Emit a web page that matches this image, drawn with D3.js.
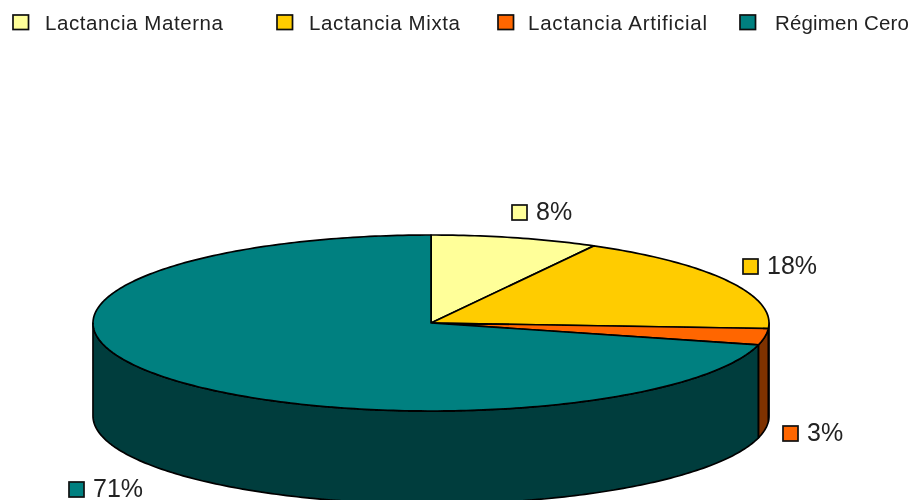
<!DOCTYPE html>
<html><head><meta charset="utf-8">
<script src="https://cdn.jsdelivr.net/npm/d3@7"></script>
<style>html,body{margin:0;padding:0;background:#fff}svg{display:block}text{font-family:"Liberation Sans",Arial,sans-serif;fill:#222}</style>
</head><body><svg id="c" width="912" height="500"></svg>
<script>
const categories = ["Lactancia Materna","Lactancia Mixta","Lactancia Artificial","Régimen Cero"];
const values = [8,18,3,71];
const colors = ["#FFFF99","#FFCC00","#FF6600","#008080"];
const wallColors = ["#7F7F4C","#7F6600","#7F3300","#003C3C"];
const legendX = [13,277,498,740];
const legendTextX = [45,309,528,775];
const legendTextW = [178,151,179,134];
const labelPos = [[512,205],[743,259],[783,426],[69,482]];

const cx=431, cy=323, rx=338, ry=88, depth=93;
const svg=d3.select("#c");
const soft=svg.append("defs").append("filter").attr("id","soft");
soft.append("feGaussianBlur").attr("stdDeviation",0.45);
const root=svg.append("g").attr("filter","url(#soft)");

const arcs=d3.pie().sort(null).value(d=>d)(values);
const px=a=>cx+rx*Math.sin(a), py=a=>cy-ry*Math.cos(a);
const line=d3.line();
const samples=(a0,a1)=>{const n=Math.max(2,Math.ceil((a1-a0)*60));return d3.range(n+1).map(i=>a0+(a1-a0)*i/n);};

// side walls: only the front half of the disc (90°..270°) is visible
const wallG=root.append("g");
arcs.forEach((d,i)=>{
  const a0=Math.max(d.startAngle,Math.PI/2), a1=Math.min(d.endAngle,Math.PI*1.5);
  if(a1<=a0) return;
  const s=samples(a0,a1);
  const pts=s.map(a=>[px(a),py(a)]).concat(s.slice().reverse().map(a=>[px(a),py(a)+depth]));
  wallG.append("path").attr("d",line(pts)+"Z").attr("fill",wallColors[i])
    .attr("stroke","#000").attr("stroke-width",1.7).attr("stroke-linejoin","round");
});

// top face
const topG=root.append("g");
arcs.forEach((d,i)=>{
  const pts=[[cx,cy]].concat(samples(d.startAngle,d.endAngle).map(a=>[px(a),py(a)]));
  topG.append("path").attr("d",line(pts)+"Z").attr("fill",colors[i])
    .attr("stroke","#000").attr("stroke-width",1.7).attr("stroke-linejoin","round");
});

// legend
const leg=root.append("g");
categories.forEach((c,i)=>{
  leg.append("rect").attr("x",legendX[i]).attr("y",15).attr("width",15.5).attr("height",14.5)
    .attr("fill",colors[i]).attr("stroke","#111").attr("stroke-width",1.7);
  leg.append("text").attr("x",legendTextX[i]).attr("y",29.5).attr("font-size",20.5)
    .attr("textLength",legendTextW[i]).attr("lengthAdjust","spacing").text(c);
});

// data labels
const lab=root.append("g");
values.forEach((v,i)=>{
  const [x,y]=labelPos[i];
  lab.append("rect").attr("x",x).attr("y",y).attr("width",15).attr("height",15)
    .attr("fill",colors[i]).attr("stroke","#111").attr("stroke-width",1.7);
  lab.append("text").attr("x",x+24).attr("y",y+14.5).attr("font-size",25).text(v+"%");
});
</script></body></html>
